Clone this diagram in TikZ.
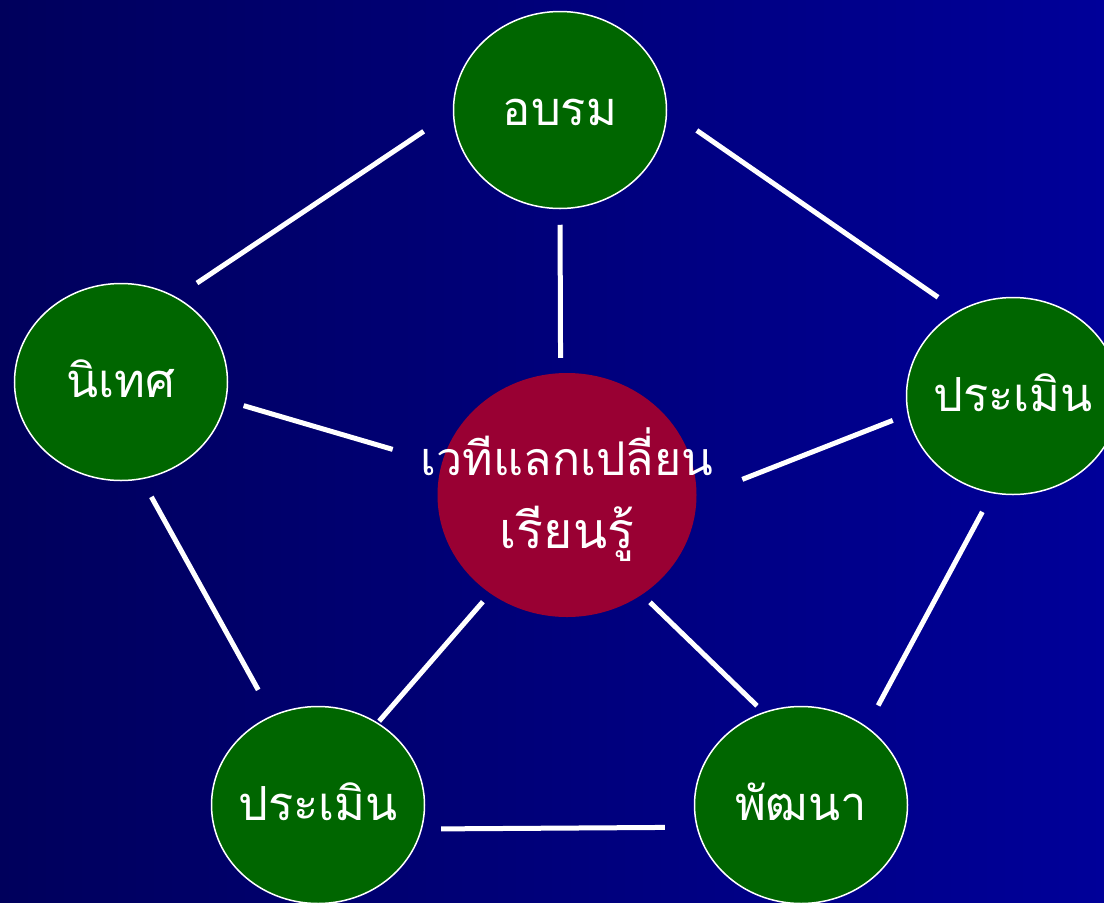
\documentclass[tikz,border=0pt]{standalone}
\usepackage{fontspec}
\usetikzlibrary{shapes.geometric}
\newfontfamily\thaifont[Script=Thai]{Loma}
\definecolor{bgleft}{HTML}{00005C}
\definecolor{bgright}{HTML}{000099}
\definecolor{leafgreen}{HTML}{006600}
\definecolor{hubred}{HTML}{990033}

\begin{document}
\begin{tikzpicture}[x=1pt, y=-1pt,
  topic/.style={ellipse, fill=leafgreen, draw=white, line width=1.5pt,
                minimum width=213pt, minimum height=197pt, inner sep=0pt},
  hub/.style={ellipse, fill=hubred, minimum width=259pt, minimum height=244pt,
              inner sep=0pt},
  tag/.style={text=white, font=\thaifont\fontsize{47}{56}\selectfont,
              text height=30pt, text depth=0pt},
  hubtop/.style={text=white, font=\thaifont\fontsize{46.5}{54}\selectfont,
                 text height=29pt, text depth=0pt, yshift=34.5pt},
  hubbot/.style={text=white, font=\thaifont\fontsize{50}{60}\selectfont,
                 text height=32pt, text depth=0pt, yshift=-37pt},
  link/.style={white, line width=5pt}
]
  \useasboundingbox (0,0) rectangle (1104,903);
  \fill[left color=bgleft, right color=bgright] (0,0) rectangle (1104,903);

  \node[topic, label={[tag]center:อบรม}] (train) at (560,110) {};
  \node[topic, label={[tag]center:นิเทศ}] (super) at (121,382) {};
  \node[topic, label={[tag]center:ประเมิน}] (evalr) at (1013,396) {};
  \node[topic, label={[tag]center:ประเมิน}] (evall) at (318,805) {};
  \node[topic, label={[tag]center:พัฒนา}] (devel) at (801,805) {};
  \node[hub, label={[hubtop]center:เวทีแลกเปลี่ยน},
             label={[hubbot]center:เรียนรู้}] (forum) at (567,495) {};

  \draw[link, shorten <=35pt, shorten >=25pt] (train.181) -- (super.57);
  \draw[link, shorten <=15.5pt, shorten >=15pt] (train.south) -- (forum.93);
  \draw[link, shorten <=36pt, shorten >=24pt] (train.east) -- (evalr.123);
  \draw[link, shorten <=18pt, shorten >=51pt] (super.350) -- (forum.166);
  \draw[link, shorten <=16pt, shorten >=49pt] (evalr.190) -- (forum.359);
  \draw[link, shorten <=20pt, shorten >=29pt] (super.282) -- (evall.117);
  \draw[link, shorten <=21pt, shorten >=24pt] (evalr.258) -- (devel.50);
  \draw[link, shorten <=11pt, shorten >=2pt] (forum.232) -- (evall.54);
  \draw[link, shorten <=11pt, shorten >=9pt] (forum.307) -- (devel.112);
  \draw[link, shorten <=19pt, shorten >=31.5pt] (evall.347) -- (devel.192);

\end{tikzpicture}
\end{document}
